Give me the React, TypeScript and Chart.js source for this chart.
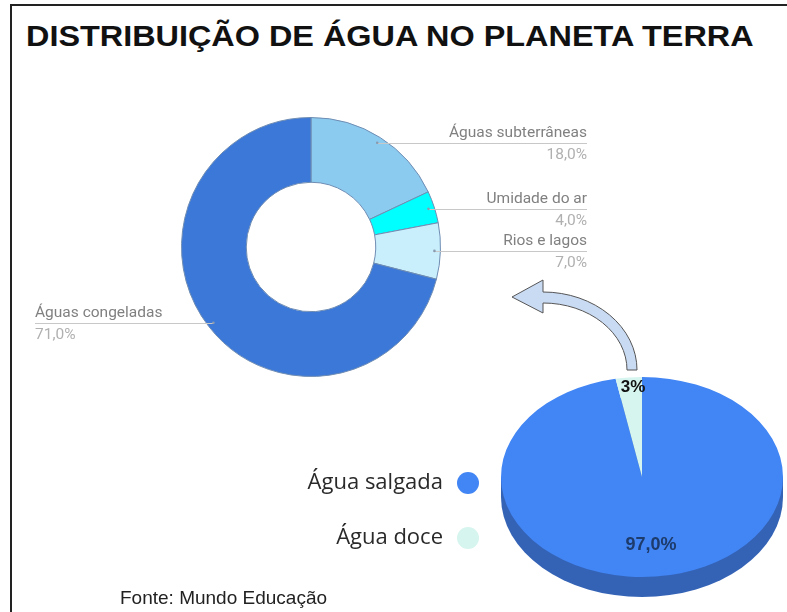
import React, { useEffect, useRef } from "react";
import { Chart, registerables } from "chart.js";

Chart.register(...registerables);

const TITLE = "DISTRIBUIÇÃO DE ÁGUA NO PLANETA TERRA";
const SOURCE = "Fonte: Mundo Educação";

const freshLabels = ["Águas subterrâneas", "Umidade do ar", "Rios e lagos", "Águas congeladas"];
const freshValues = [18, 4, 7, 71];
const freshColors = ["#8ccbf0", "#00ffff", "#c9eefc", "#3c78d8"];

const totalLabels = ["Água salgada", "Água doce"];
const totalValues = [97, 3];
const totalValueText = ["97,0%", "3%"];
const totalColors = ["#4285f4", "#d6f5ee"];

const W = 787;
const H = 612;
const PIE_W = 800;
const PIE_H = 700;
const TILT = 100 / 141;
const DEPTH = 20;

function fmt(v: number) {
  return v.toFixed(1).replace(".", ",") + "%";
}

const donutLabelsPlugin = {
  id: "donutLabels",
  afterDatasetsDraw(chart: any) {
    const ctx = chart.ctx;
    const meta = chart.getDatasetMeta(0);
    const area = chart.chartArea;
    const values = chart.data.datasets[0].data;
    meta.data.forEach((arc: any, i: number) => {
      const p = arc.getProps(["x", "y", "startAngle", "endAngle", "outerRadius"], true);
      const mid = (p.startAngle + p.endAngle) / 2;
      const r = p.outerRadius - 6;
      const ax = p.x + Math.cos(mid) * r;
      const ay = p.y + Math.sin(mid) * r;
      const right = Math.cos(mid) >= 0;
      const tx = right ? area.right + 146 : area.left - 146;
      const ly = Math.round(ay) + 0.5;
      ctx.save();
      ctx.strokeStyle = "#c8c8c8";
      ctx.lineWidth = 1;
      ctx.beginPath();
      ctx.moveTo(ax, ly);
      ctx.lineTo(tx, ly);
      ctx.stroke();
      ctx.fillStyle = "#8a9bb0";
      ctx.beginPath();
      ctx.arc(ax, ay, 1.3, 0, Math.PI * 2);
      ctx.fill();
      ctx.font = "15.5px Roboto";
      ctx.textAlign = right ? "right" : "left";
      ctx.textBaseline = "middle";
      ctx.fillStyle = "#808080";
      ctx.fillText(chart.data.labels[i], tx, ly - 10);
      ctx.fillStyle = "#b0b0b0";
      ctx.fillText(fmt(values[i]), tx, ly + 12);
      ctx.restore();
    });
  },
};

const tiltPlugin = {
  id: "tilt3d",
  beforeDatasetsDraw(chart: any) {
    const ctx = chart.ctx;
    const arc = chart.getDatasetMeta(0).data[0];
    const p = arc.getProps(["x", "y", "outerRadius"], true);
    ctx.save();
    ctx.translate(0, p.y);
    ctx.scale(1, TILT);
    ctx.translate(0, -p.y);
    const d = DEPTH / TILT;
    ctx.fillStyle = "#3463b6";
    ctx.beginPath();
    ctx.arc(p.x, p.y + d, p.outerRadius, 0, Math.PI * 2);
    ctx.fill();
    ctx.fillRect(p.x - p.outerRadius, p.y, p.outerRadius * 2, d);
  },
  afterDatasetsDraw(chart: any) {
    chart.ctx.restore();
  },
  afterDraw(chart: any) {
    const ctx = chart.ctx;
    const meta = chart.getDatasetMeta(0);
    const values = chart.data.datasets[0].data;
    const total = values.reduce((a: number, b: number) => a + b, 0);
    // slice labels
    meta.data.forEach((arc: any, i: number) => {
      const p = arc.getProps(["x", "y", "startAngle", "endAngle", "outerRadius"], true);
      const mid = (p.startAngle + p.endAngle) / 2;
      const small = values[i] / total < 0.05;
      const f = small ? 0.9 : 0.68;
      const x = p.x + Math.cos(mid) * p.outerRadius * f + (small ? 3 : 0);
      const y = p.y + Math.sin(mid) * p.outerRadius * f * TILT;
      ctx.save();
      ctx.font = small ? "bold 17px Arial" : "bold 18px Arial";
      ctx.fillStyle = small ? "#111111" : "#1d3b6b";
      ctx.textAlign = "center";
      ctx.textBaseline = "middle";
      ctx.fillText(totalValueText[i], x, y);
      ctx.restore();
    });
    // arrow (decoration) relative to the pie top
    const a0 = meta.data[0].getProps(["x", "y", "outerRadius"], true);
    const cx = a0.x - 99;
    const cy = a0.y - a0.outerRadius * TILT - 7;
    ctx.save();
    ctx.beginPath();
    ctx.moveTo(cx, cy - 78);
    ctx.ellipse(cx, cy, 94, 78, 0, -Math.PI / 2, 0, false);
    ctx.lineTo(cx + 84, cy);
    ctx.ellipse(cx, cy, 84, 67, 0, 0, -Math.PI / 2, true);
    ctx.lineTo(cx, cy - 57);
    ctx.lineTo(cx - 31, cy - 73);
    ctx.lineTo(cx, cy - 90);
    ctx.closePath();
    ctx.fillStyle = "#c9daf3";
    ctx.fill();
    ctx.strokeStyle = "#555555";
    ctx.lineWidth = 1;
    ctx.stroke();
    ctx.restore();
    // legend
    ctx.save();
    chart.data.labels.forEach((lab: string, i: number) => {
      const y = 483 + i * 55;
      ctx.font = "22px 'Open Sans'";
      ctx.fillStyle = "#2a2a2a";
      ctx.textAlign = "right";
      ctx.textBaseline = "middle";
      ctx.fillText(lab, 443, y);
      ctx.fillStyle = chart.data.datasets[0].backgroundColor[i];
      ctx.beginPath();
      ctx.arc(468, y, 11, 0, Math.PI * 2);
      ctx.fill();
    });
    ctx.restore();
  },
};

export default function App() {
  const donutRef = useRef<HTMLCanvasElement | null>(null);
  const pieRef = useRef<HTMLCanvasElement | null>(null);

  useEffect(() => {
    const donut = new Chart(donutRef.current as HTMLCanvasElement, {
      type: "doughnut",
      data: {
        labels: freshLabels,
        datasets: [
          {
            data: freshValues,
            backgroundColor: freshColors,
            borderColor: "#6f8db3",
            borderWidth: 1,
            clip: false,
          } as any,
        ],
      },
      options: {
        responsive: false,
        animation: false,
        events: [],
        cutout: "50%",
        layout: { padding: { left: 181, top: 117, right: W - 441, bottom: H - 377 } },
        plugins: { legend: { display: false }, tooltip: { enabled: false } },
      },
      plugins: [donutLabelsPlugin],
    });
    const pie = new Chart(pieRef.current as HTMLCanvasElement, {
      type: "pie",
      data: {
        labels: totalLabels,
        datasets: [
          {
            data: totalValues,
            backgroundColor: totalColors,
            borderWidth: 0,
            clip: false,
          } as any,
        ],
      },
      options: {
        responsive: false,
        animation: false,
        events: [],
        layout: { padding: { left: 501, top: 336, right: PIE_W - 783, bottom: PIE_H - 618 } },
        plugins: { legend: { display: false }, tooltip: { enabled: false } },
      },
      plugins: [tiltPlugin],
    });
    return () => {
      donut.destroy();
      pie.destroy();
    };
  }, []);

  return (
    <div
      style={{
        position: "fixed",
        left: 0,
        top: 0,
        width: W,
        height: H,
        overflow: "hidden",
        background: "#ffffff",
      }}
    >
      <div
        style={{
          position: "absolute",
          left: 10,
          top: 4,
          width: W,
          height: H,
          borderTop: "2px solid #222",
          borderLeft: "2px solid #222",
        }}
      />
      <div
        style={{
          position: "absolute",
          left: 26,
          top: 22,
          font: "bold 29px 'Liberation Sans', Arial, sans-serif",
          lineHeight: "29px",
          color: "#111",
          whiteSpace: "nowrap",
          transform: "scaleX(1.117)",
          transformOrigin: "0 0",
        }}
      >
        {TITLE}
      </div>
      <canvas
        ref={donutRef}
        width={W}
        height={H}
        style={{ position: "absolute", left: 0, top: 0, width: W, height: H }}
      />
      <canvas
        ref={pieRef}
        width={PIE_W}
        height={PIE_H}
        style={{ position: "absolute", left: 0, top: 0, width: PIE_W, height: PIE_H }}
      />
      <div
        style={{
          position: "absolute",
          left: 120,
          top: 588,
          font: "19px 'Liberation Sans', Arial, sans-serif",
          lineHeight: "19px",
          color: "#222",
          whiteSpace: "nowrap",
        }}
      >
        {SOURCE}
      </div>
    </div>
  );
}
